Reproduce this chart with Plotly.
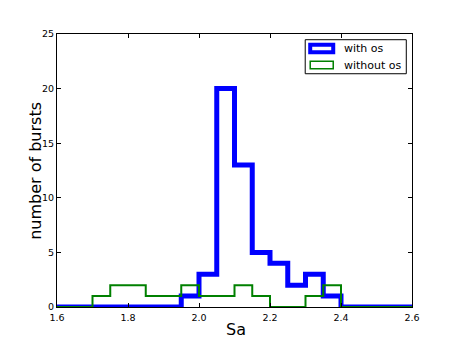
import plotly.graph_objects as go

# Histogram bin edges (Sa) and counts
bin_edges = [1.60, 1.65, 1.70, 1.75, 1.80, 1.85, 1.90, 1.95, 2.00, 2.05, 2.10,
             2.15, 2.20, 2.25, 2.30, 2.35, 2.40, 2.45, 2.50, 2.55, 2.60]
with_os = [0, 0, 0, 0, 0, 0, 0, 1, 3, 20, 13, 5, 4, 2, 3, 1, 0, 0, 0, 0]
without_os = [0, 0, 1, 2, 2, 1, 1, 2, 1, 1, 2, 1, 0, 0, 1, 2, 0, 0, 0, 0]

x_ticks = [1.6, 1.8, 2.0, 2.2, 2.4, 2.6]
x_tick_labels = ["1.6", "1.8", "2.0", "2.2", "2.4", "2.6"]
y_ticks = [0, 5, 10, 15, 20, 25]

BLUE = "#0000ff"
GREEN = "#008000"
FONT = "DejaVu Sans"


def step_xy(edges, counts):
    xs = list(edges)
    ys = list(counts) + [counts[-1]]
    return xs, ys


fig = go.Figure()
for counts, color, width, name in [(with_os, BLUE, 5, "with os"),
                                   (without_os, GREEN, 2, "without os")]:
    xs, ys = step_xy(bin_edges, counts)
    fig.add_trace(go.Scatter(x=xs, y=ys, mode="lines", name=name,
                             line=dict(color=color, width=width, shape="hv"),
                             showlegend=False))

axis_common = dict(showgrid=False, zeroline=False, showline=True, linecolor="black",
                   linewidth=1, mirror="ticks", ticks="inside", ticklen=4,
                   tickcolor="black", automargin=False,
                   tickfont=dict(family=FONT, size=9.5, color="black"))

fig.update_xaxes(range=[1.6, 2.6], tickvals=x_ticks, ticktext=x_tick_labels,
                 ticklabelstandoff=2, **axis_common)
fig.update_yaxes(range=[0, 25], tickvals=y_ticks, **axis_common)

# Page coordinates of the plotting area (browser body has an 8px margin)
OFF = 8
W, H = 457, 343
PL, PR, PT, PB = 57, 411.7, 34.3, 307
L = PL - OFF
T = PT - OFF
pw = PR - PL
ph = PB - PT
R = W - L - pw
B = H - T - ph


def px(xp):
    return (xp - PL) / pw


def py(yp):
    return (PB - yp) / ph


shapes = [
    dict(type="rect", xref="paper", yref="paper", x0=px(305), x1=px(406), y0=py(74), y1=py(40),
         line=dict(color="black", width=1), fillcolor="white", layer="above"),
    dict(type="rect", xref="paper", yref="paper", x0=px(310), x1=px(333), y0=py(52.5), y1=py(45),
         line=dict(color=BLUE, width=4), fillcolor="rgba(0,0,0,0)", layer="above"),
    dict(type="rect", xref="paper", yref="paper", x0=px(310), x1=px(333), y0=py(69), y1=py(61.5),
         line=dict(color=GREEN, width=1.5), fillcolor="rgba(0,0,0,0)", layer="above"),
]
annotations = [
    dict(text="with os", xref="paper", yref="paper", x=px(342), y=py(49), xanchor="left",
         yanchor="middle", showarrow=False, font=dict(family=FONT, size=11, color="black")),
    dict(text="without os", xref="paper", yref="paper", x=px(342), y=py(65.3), xanchor="left",
         yanchor="middle", showarrow=False, font=dict(family=FONT, size=11, color="black")),
    dict(text="Sa", xref="paper", yref="paper", x=px(235.5), y=py(329), xanchor="center",
         yanchor="middle", showarrow=False, font=dict(family=FONT, size=16, color="black")),
    dict(text="number of bursts", xref="paper", yref="paper", x=px(35.5), y=py(170.5),
         xanchor="center", yanchor="middle", textangle=-90, showarrow=False,
         font=dict(family=FONT, size=16, color="black")),
]

fig.update_layout(width=W, height=H, margin=dict(l=L, r=R, t=T, b=B, autoexpand=False),
                  paper_bgcolor="white", plot_bgcolor="white",
                  shapes=shapes, annotations=annotations, showlegend=False)

fig.write_html("out.html")
